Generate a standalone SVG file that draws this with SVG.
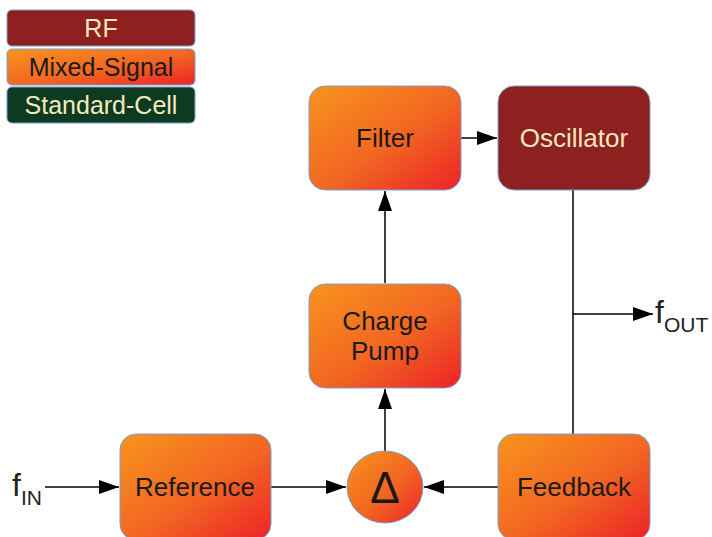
<svg xmlns="http://www.w3.org/2000/svg" width="712" height="537" viewBox="0 0 712 537">
<defs>
<linearGradient id="ms" x1="0" y1="0" x2="1" y2="1">
<stop offset="0" stop-color="#f7941d"/>
<stop offset="0.55" stop-color="#f26522"/>
<stop offset="1" stop-color="#ec2227"/>
</linearGradient>
<marker id="ah" markerWidth="20" markerHeight="14" refX="20" refY="7" orient="auto" markerUnits="userSpaceOnUse">
<path d="M0,0 L20,7 L0,14 Z" fill="#000"/>
</marker>
<style>
.ms{fill:url(#ms);stroke:#7aa0d0;stroke-width:1}
.rf{fill:#8e2020;stroke:#7aa0d0;stroke-width:1}
.sc{fill:#0c3b22;stroke:#7aa0d0;stroke-width:1}
text{font-family:"Liberation Sans",Arial,sans-serif;text-anchor:middle;dominant-baseline:central}
.dk{fill:#1a1a1a;font-size:26px}
.lt{fill:#f6e8bf;font-size:26px}
.lg{font-size:25px}
.c{stroke:#000;stroke-width:1.5;fill:none}
.arr{marker-end:url(#ah)}
</style>
</defs>
<g id="legend">
<g id="legend-rf"><rect class="rf" x="7" y="10" width="188" height="36" rx="5"/><text class="lt lg" x="101" y="28">RF</text></g>
<g id="legend-ms"><rect class="ms" x="7" y="49" width="188" height="36" rx="5"/><text class="dk lg" x="101" y="67">Mixed-Signal</text></g>
<g id="legend-sc"><rect class="sc" x="7" y="87" width="188" height="36" rx="5"/><text class="lt lg" x="101" y="105">Standard-Cell</text></g>
</g>
<g id="connectors">
<line class="c arr" x1="45" y1="487" x2="119" y2="487"/>
<line class="c arr" x1="271" y1="487" x2="346" y2="487"/>
<line class="c arr" x1="498" y1="487" x2="424" y2="487"/>
<line class="c arr" x1="385" y1="451" x2="385" y2="389"/>
<line class="c arr" x1="385" y1="283" x2="385" y2="191"/>
<line class="c arr" x1="461" y1="138" x2="497" y2="138"/>
<line class="c" x1="573" y1="190" x2="573" y2="434"/>
<line class="c arr" x1="573" y1="314" x2="653" y2="314"/>
</g>
<g id="filter"><rect class="ms" x="309" y="86" width="152" height="104" rx="16"/><text class="dk" x="385" y="138">Filter</text></g>
<g id="oscillator"><rect class="rf" x="498" y="86" width="152" height="104" rx="16"/><text class="lt" x="574" y="138">Oscillator</text></g>
<g id="chargepump"><rect class="ms" x="309" y="284" width="152" height="104" rx="16"/><text class="dk" x="385" y="321">Charge</text><text class="dk" x="385" y="351">Pump</text></g>
<g id="reference"><rect class="ms" x="120" y="434" width="151" height="106" rx="16"/><text class="dk" x="195" y="487">Reference</text></g>
<g id="feedback"><rect class="ms" x="498" y="434" width="152" height="106" rx="16"/><text class="dk" x="574" y="487">Feedback</text></g>
<g id="delta"><ellipse class="ms" cx="385" cy="487" rx="38" ry="36"/><text class="dk" x="385" y="487" style="font-size:44px">Δ</text></g>
<g id="labels">
<text x="12" y="485" style="font-size:32px;text-anchor:start;fill:#222">f<tspan dy="12" style="font-size:21px">IN</tspan></text>
<text x="655" y="312" style="font-size:32px;text-anchor:start;fill:#222">f<tspan dy="12" style="font-size:21px">OUT</tspan></text>
</g>
</svg>
